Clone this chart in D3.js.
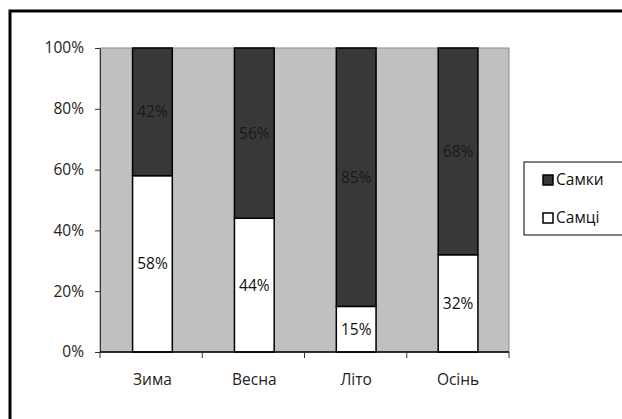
<!DOCTYPE html>
<html>
<head>
<meta charset="utf-8">
<script src="https://cdn.jsdelivr.net/npm/d3@7"></script>
<style>
  body { margin: 0; background: #fff; }
  text { font-family: "Open Sans", sans-serif; }
</style>
</head>
<body>
<script>
// seasons and shares (percent)
const seasons = ["Зима", "Весна", "Літо", "Осінь"];
const males = [58, 44, 15, 32];     // Самці
const females = [42, 56, 85, 68];   // Самки
const yTicks = [0, 20, 40, 60, 80, 100];
const legendNames = ["Самки", "Самці"];

const W = 622, H = 419;
const margin = {top: 48, left: 100, right: 113, bottom: 67};
const width = W - margin.left - margin.right,
      height = H - margin.top - margin.bottom;
const fs = 15.5;

const svg = d3.select("body").append("svg")
    .attr("width", W)
    .attr("height", H);

// outer frame (cropped at right and bottom)
svg.append("rect")
    .attr("x", 10).attr("y", 11)
    .attr("width", 640).attr("height", 440)
    .attr("fill", "none")
    .attr("stroke", "#000")
    .attr("stroke-width", 3);

const g = svg.append("g")
    .attr("transform", "translate(" + margin.left + "," + margin.top + ")");

const x = d3.scaleBand().domain(seasons).range([1.5, width]).paddingInner(0.61).paddingOuter(0.305);
const y = d3.scaleLinear().domain([0, 100]).range([height, 0]);

// plot background
g.append("rect")
    .attr("width", width).attr("height", height)
    .attr("fill", "#c0c0c0")
    .attr("stroke", "#8c8c8c")
    .attr("stroke-width", 1);

// stacked data
const rows = seasons.map((s, i) => ({season: s, m: males[i], f: females[i]}));

// males (bottom)
g.selectAll("rect.male").data(rows).enter().append("rect")
    .attr("class", "male")
    .attr("x", d => x(d.season))
    .attr("width", x.bandwidth())
    .attr("y", d => y(d.m))
    .attr("height", d => y(0) - y(d.m))
    .attr("fill", "#fff")
    .attr("stroke", "#000")
    .attr("stroke-width", 1.5);

// females (top)
g.selectAll("rect.female").data(rows).enter().append("rect")
    .attr("class", "female")
    .attr("x", d => x(d.season))
    .attr("width", x.bandwidth())
    .attr("y", d => y(d.m + d.f))
    .attr("height", d => y(d.m) - y(d.m + d.f))
    .attr("fill", "#383838")
    .attr("stroke", "#000")
    .attr("stroke-width", 1.5);

// data labels
g.selectAll("text.lm").data(rows).enter().append("text")
    .attr("x", d => x(d.season) + x.bandwidth() / 2)
    .attr("y", d => y(d.m / 2))
    .attr("dy", "0.35em")
    .attr("text-anchor", "middle")
    .attr("font-size", fs)
    .attr("fill", "#111")
    .text(d => d.m + "%");

g.selectAll("text.lf").data(rows).enter().append("text")
    .attr("x", d => x(d.season) + x.bandwidth() / 2)
    .attr("y", d => y(d.m + d.f / 2))
    .attr("dy", "0.35em")
    .attr("text-anchor", "middle")
    .attr("font-size", fs)
    .attr("fill", "#1a1a1a")
    .text(d => d.f + "%");

// y axis
const yAxis = g.append("g")
    .call(d3.axisLeft(y).tickValues(yTicks).tickFormat(d => d + "%").tickSize(5).tickSizeOuter(0));
yAxis.select(".domain").attr("stroke", "#333");
yAxis.selectAll("line").attr("stroke", "#333");
yAxis.selectAll("text").attr("font-size", fs).attr("fill", "#222").attr("x", -16)
    .style("font-family", "Open Sans");

// x axis with ticks at category boundaries
const xAxisG = g.append("g").attr("transform", "translate(0," + height + ")");
xAxisG.append("line").attr("x1", 0).attr("x2", width).attr("stroke", "#000").attr("stroke-width", 1.5);
const step = width / seasons.length;
xAxisG.selectAll("line.tk").data(d3.range(seasons.length + 1)).enter().append("line")
    .attr("x1", d => d * step).attr("x2", d => d * step)
    .attr("y1", 0).attr("y2", 6)
    .attr("stroke", "#333");
xAxisG.selectAll("text").data(seasons).enter().append("text")
    .attr("x", d => x(d) + x.bandwidth() / 2)
    .attr("y", 33)
    .attr("text-anchor", "middle")
    .attr("font-size", fs)
    .attr("fill", "#222")
    .text(d => d);

// legend
const lg = svg.append("g").attr("transform", "translate(524,162)");
lg.append("rect")
    .attr("width", 100).attr("height", 73)
    .attr("fill", "#fff")
    .attr("stroke", "#000")
    .attr("stroke-width", 1);
const legendColors = ["#383838", "#fff"];
legendNames.forEach((n, i) => {
  const cy = 18 + i * 38;
  lg.append("rect")
      .attr("x", 19).attr("y", cy - 5)
      .attr("width", 10).attr("height", 10)
      .attr("fill", legendColors[i])
      .attr("stroke", "#000")
      .attr("stroke-width", 1.5);
  lg.append("text")
      .attr("x", 32).attr("y", cy)
      .attr("dy", "0.35em")
      .attr("font-size", fs)
      .attr("fill", "#111")
      .text(n);
});
</script>
</body>
</html>
